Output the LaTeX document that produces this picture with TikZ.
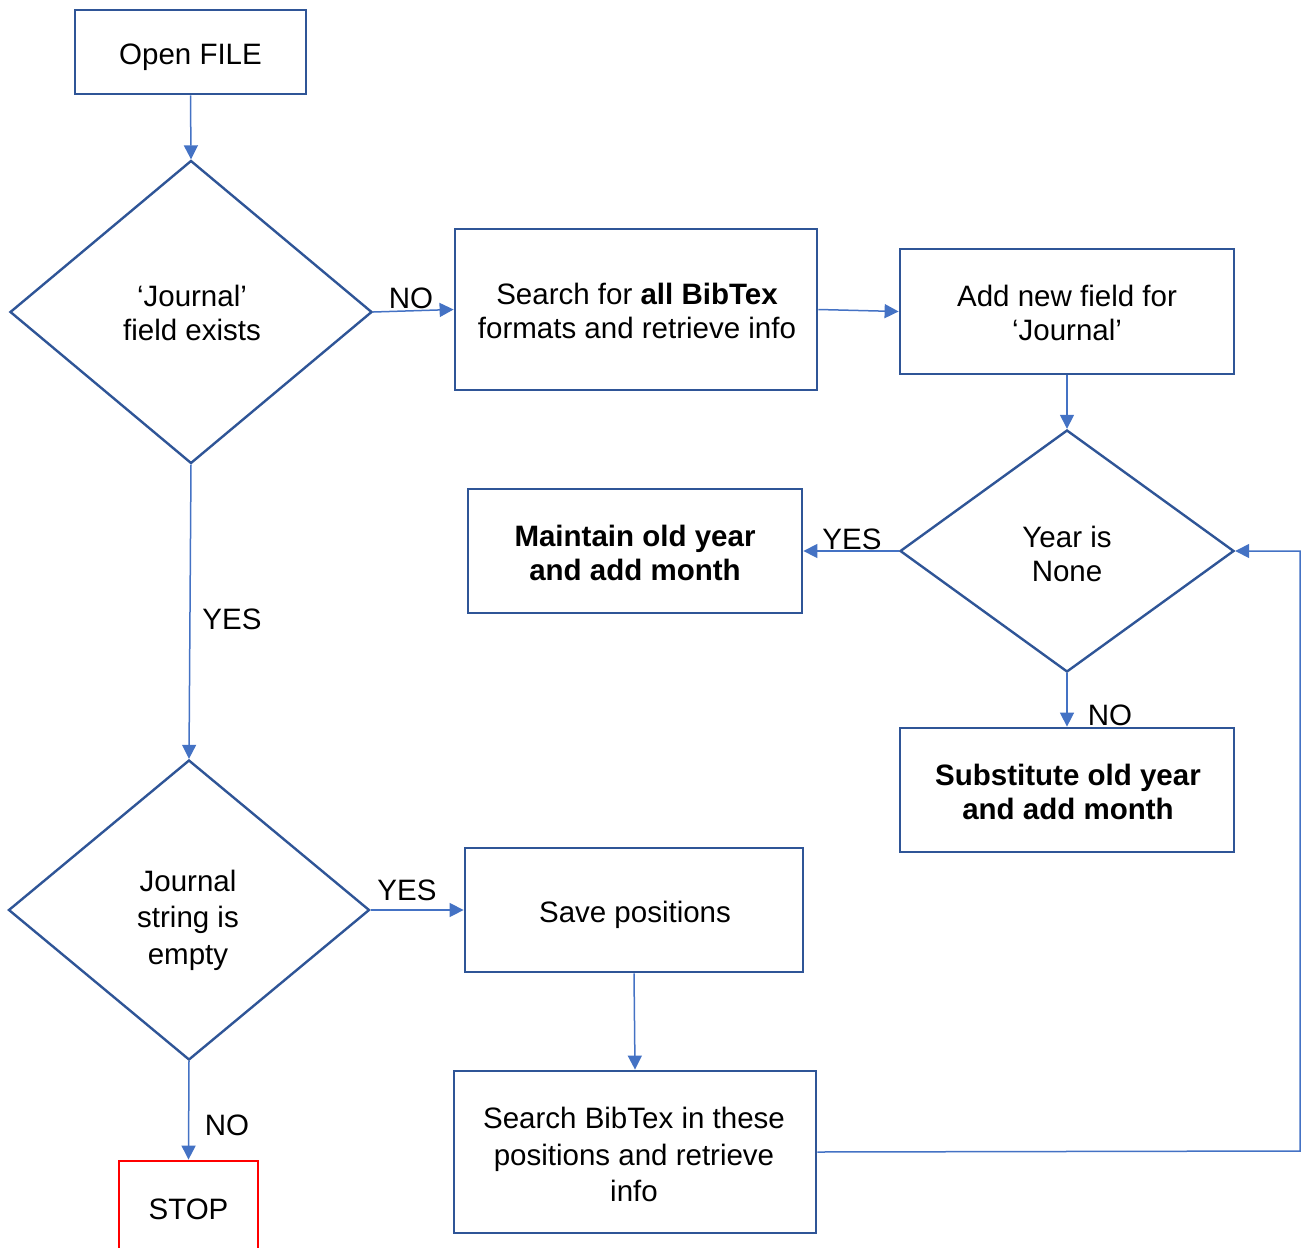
\documentclass[tikz,border=0pt]{standalone}
\usepackage{fontspec}
\setmainfont{Liberation Sans}
\usetikzlibrary{shapes.geometric,arrows.meta}
\definecolor{boxblue}{HTML}{2F5597}
\definecolor{lineblue}{HTML}{4472C4}
\definecolor{stopred}{HTML}{FF0000}
\begin{document}
\begin{tikzpicture}[x=1pt,y=-1pt,
  every node/.style={font=\fontsize{29.5}{34}\selectfont, align=center, inner sep=0pt},
  procbox/.style={draw=boxblue, line width=2.8pt, rectangle, fill=white},
  decision/.style={draw=boxblue, line width=2.4pt, diamond, fill=white},
  stopbox/.style={draw=stopred, line width=2.8pt, rectangle, fill=white},
  flow/.style={draw=lineblue, line width=1.5pt, -{Triangle[length=14pt,width=14pt]}},
  lbl/.style={font=\fontsize{29.5}{34}\selectfont}]
\useasboundingbox (0,0) rectangle (1303,1247);

% process boxes
\node[procbox, minimum width=231pt, minimum height=84pt] (open) at (190.5,52) {};
\node at (190.5,57) {Open FILE};
\node[procbox, minimum width=362pt, minimum height=161pt] (search1) at (636,309.5) {};
\node at (637,311) {Search for \textbf{all BibTex}\\formats and retrieve info};
\node[procbox, minimum width=334pt, minimum height=125pt] (add) at (1067,311.5) {};
\node at (1067,313) {Add new field for\\‘Journal’};
\node[procbox, minimum width=334pt, minimum height=124pt] (maintain) at (635,551) {};
\node at (635,553) {\textbf{Maintain old year}\\\textbf{and add month}};
\node[procbox, minimum width=334pt, minimum height=124pt] (subst) at (1067,790) {};
\node at (1068,792) {\textbf{Substitute old year}\\\textbf{and add month}};
\node[procbox, minimum width=338pt, minimum height=124pt] (save) at (634,910) {};
\node at (635,915) {Save positions};
\node[procbox, minimum width=362pt, minimum height=162pt] (search2) at (635,1152) {};
\node[font=\fontsize{29.5}{36.5}\selectfont] at (634,1154.5) {Search BibTex in these\\positions and retrieve\\info};
\node[stopbox, minimum width=139pt, minimum height=110pt] (stop) at (188.5,1216) {};
\node at (188.5,1209) {STOP};

% decisions
\node[decision, minimum width=362pt, minimum height=303pt] (d1) at (191,312) {};
\node at (192,313) {‘Journal’\\field exists};
\node[decision, minimum width=334pt, minimum height=242pt] (d2) at (1067,551) {};
\node at (1067,554) {Year is\\None};
\node[decision, minimum width=361pt, minimum height=300pt] (d3) at (189,910) {};
\node[font=\fontsize{29.5}{36.5}\selectfont] at (188,920) {Journal\\string is\\empty};

% connectors
\draw[flow] (open.south) -- (d1.north);
\draw[flow] (d1.east) -- (search1.west);
\draw[flow] (search1.east) -- (add.west);
\draw[flow] (add.south) -- (d2.north);
\draw[flow] (d2.west) -- (maintain.east);
\draw[flow] (d2.south) -- (subst.north);
\draw[flow] (d1.south) -- (d3.north);
\draw[flow] (d3.east) -- (save.west);
\draw[flow] (save.south) -- (search2.north);
\draw[flow] (d3.south) -- (stop.north);
\coordinate (loop) at (1300,1151);
\draw[flow] (search2.east) -- (loop) |- (d2.east);

% branch labels
\node[lbl] at (411,298) {NO};
\node[lbl] at (852,539) {YES};
\node[lbl] at (1110,715) {NO};
\node[lbl] at (232,619) {YES};
\node[lbl] at (407,890) {YES};
\node[lbl] at (227,1125) {NO};
\end{tikzpicture}
\end{document}
